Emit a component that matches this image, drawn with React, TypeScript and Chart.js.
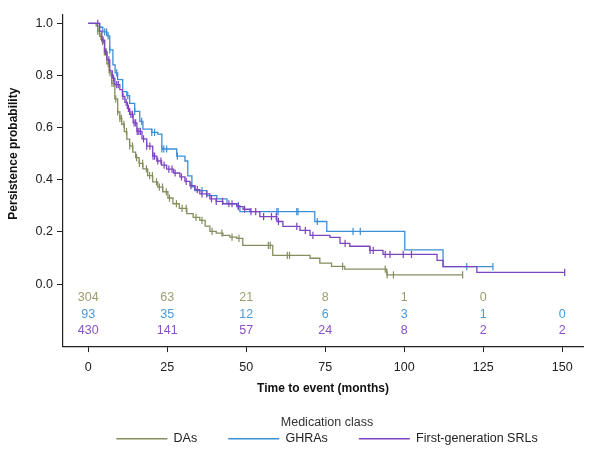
import React, { useEffect, useRef } from 'react';
import { Chart, registerables } from 'chart.js';

Chart.register(...registerables);

const FONT = '"Liberation Sans", Arial, Helvetica, sans-serif';

// ---- Data ----
const groupNames = ['DAs', 'GHRAs', 'First-generation SRLs'];

// DAs Kaplan-Meier steps (time in months, persistence probability after the drop)
const daTimes = [0, 2.5, 3.0, 3.6, 4.3, 5.1, 5.9, 6.6, 7.4, 8.4, 9.3, 10.0, 10.6, 11.4, 12.2, 13.1, 14.1, 15.0, 16.1, 17.3, 18.8, 20.4, 22.0, 23.6, 25.2, 26.8, 28.8, 31.2, 33.2, 35.3, 37.0, 38.5, 40.5, 42.6, 44.8, 47.0, 48.9, 58.4, 70.2, 73.3, 77.0, 81.2, 94.5, 118.5];
const daSurv = [1, 0.99, 0.97, 0.95, 0.93, 0.89, 0.845, 0.81, 0.77, 0.71, 0.66, 0.635, 0.613, 0.585, 0.556, 0.53, 0.506, 0.485, 0.463, 0.442, 0.416, 0.392, 0.372, 0.354, 0.33, 0.308, 0.29, 0.27, 0.256, 0.244, 0.222, 0.202, 0.195, 0.187, 0.18, 0.175, 0.148, 0.11, 0.099, 0.08, 0.068, 0.057, 0.035, 0.035];
const daCensor = [3, 3.5, 4, 4.5, 5.1, 5.7, 6.3, 6.9, 7.5, 8.1, 8.7, 9.3, 10, 10.5, 11.3, 12.1, 13.1, 14, 15.3, 16.2, 17.2, 18.4, 19.4, 20.3, 21.6, 22.5, 23.5, 24.7, 25.7, 27.9, 29.7, 31, 34.1, 36, 39.2, 42.3, 45.5, 47.7, 57, 57.6, 63, 63.7, 80.5, 94, 94.6, 96.6, 118.5];

// GHRAs
const ghTimes = [0, 3.6, 4.6, 5.9, 6.8, 7.8, 8.5, 9.3, 10.9, 12.2, 13.1, 14.7, 16.3, 17.3, 20.1, 22.0, 23.3, 28.0, 30.6, 31.5, 32.8, 33.7, 37.5, 40.7, 43.9, 47.0, 48.0, 71.7, 75.5, 100.2, 112.3, 128.1];
const ghSurv = [1, 0.985, 0.967, 0.952, 0.898, 0.841, 0.81, 0.784, 0.738, 0.723, 0.693, 0.662, 0.624, 0.594, 0.582, 0.575, 0.518, 0.491, 0.472, 0.415, 0.373, 0.358, 0.339, 0.327, 0.308, 0.301, 0.278, 0.24, 0.202, 0.131, 0.067, 0.067];
const ghCensor = [5.2, 5.8, 6.3, 6.8, 9, 12.5, 14.7, 16.9, 20.1, 21, 23.3, 23.9, 24.8, 28.2, 36, 47.5, 59.7, 60.1, 66, 66.4, 72.5, 83.8, 86.1, 119.8, 128.1];

// First-generation SRLs
const srTimes = [0, 3.6, 4.3, 5.2, 5.9, 6.8, 7.6, 8.4, 10.0, 10.8, 11.6, 12.4, 13.1, 14.2, 15.4, 17.0, 18.5, 20.4, 21.7, 23.2, 24.8, 27.0, 29.0, 30.6, 32.2, 33.8, 35.3, 38.5, 40.5, 42.6, 47.0, 49.0, 51.2, 54.3, 59.7, 61.6, 67.0, 70.2, 76.5, 79.7, 82.8, 89.1, 93.3, 110.4, 112.3, 123.0, 150.8];
const srSurv = [1, 0.97, 0.936, 0.89, 0.86, 0.818, 0.79, 0.765, 0.746, 0.72, 0.697, 0.674, 0.651, 0.618, 0.586, 0.557, 0.529, 0.491, 0.472, 0.456, 0.441, 0.426, 0.411, 0.394, 0.377, 0.362, 0.346, 0.327, 0.317, 0.308, 0.297, 0.287, 0.278, 0.259, 0.24, 0.221, 0.206, 0.187, 0.179, 0.156, 0.145, 0.129, 0.114, 0.091, 0.067, 0.045, 0.045];
const srCensor = [3, 4.7, 5.5, 6.5, 8, 9, 9.5, 11, 12, 12.7, 13.5, 14, 14.5, 15, 15.5, 16, 16.5, 17.5, 18.5, 19.5, 20.5, 21, 22, 23, 24, 25.5, 26.5, 27.5, 29.5, 31, 32.5, 34.5, 36, 37.5, 39, 40.5, 42.5, 44.5, 45.5, 47.5, 49.5, 51.5, 53, 55.5, 58, 59.5, 60.2, 66, 68.7, 71.1, 81.3, 89.2, 90.2, 94, 95.5, 99.7, 102.3, 150.8];

// Numbers at risk
const riskTimes = [0, 25, 50, 75, 100, 125, 150];
const daRisk = [304, 63, 21, 8, 1, 0, null];
const ghRisk = [93, 35, 12, 6, 3, 1, 0];
const srRisk = [430, 141, 57, 24, 8, 2, 2];

const xTickValues = [0, 25, 50, 75, 100, 125, 150];
const yTickValues = [0, 0.2, 0.4, 0.6, 0.8, 1.0];

const lineColors = ['#838f5e', '#3d8fd5', '#7c44c0'];
const riskColors = ['#9d9d70', '#4b99d8', '#8a52c8'];

// ---- helpers ----
function stepPoints(times: number[], surv: number[]) {
  return times.map((t, i) => ({ x: t, y: surv[i] }));
}
function censorPoints(times: number[], surv: number[], censor: number[]) {
  return censor.map((c) => {
    let v = surv[0];
    for (let i = 0; i < times.length; i++) {
      if (times[i] <= c) v = surv[i];
    }
    return { x: c, y: v };
  });
}

const riskPlugin = {
  id: 'riskTableAndYTitle',
  afterLayout(chart: any) {
    const lg = chart.legend;
    if (lg) {
      lg.left += 4;
      lg.right += 4;
    }
  },
  afterDatasetsDraw(chart: any) {
    const { ctx, scales } = chart;
    const x = scales.x;
    const y = scales.y;
    const rows = [daRisk, ghRisk, srRisk];
    const rowLevels = [-0.053, -0.117, -0.18];
    ctx.save();
    ctx.font = `12.5px ${FONT}`;
    ctx.textAlign = 'center';
    ctx.textBaseline = 'middle';
    rows.forEach((row, r) => {
      ctx.fillStyle = riskColors[r];
      const py = y.getPixelForValue(rowLevels[r]);
      row.forEach((n, i) => {
        if (n === null || n === undefined) return;
        ctx.fillText(String(n), x.getPixelForValue(riskTimes[i]), py);
      });
    });
    ctx.restore();

    ctx.save();
    ctx.translate(13.5, y.getPixelForValue(0.5));
    ctx.rotate(-Math.PI / 2);
    ctx.font = `bold 12px ${FONT}`;
    ctx.fillStyle = '#111';
    ctx.textAlign = 'center';
    ctx.textBaseline = 'middle';
    ctx.fillText('Persistence probability', 0, 0);
    ctx.restore();
  },
};

export default function App() {
  const canvasRef = useRef<HTMLCanvasElement | null>(null);

  useEffect(() => {
    if (!canvasRef.current) return;
    const curves = [
      [daTimes, daSurv, daCensor],
      [ghTimes, ghSurv, ghCensor],
      [srTimes, srSurv, srCensor],
    ] as number[][][];

    const datasets: any[] = [];
    curves.forEach(([t, s], i) => {
      datasets.push({
        label: groupNames[i],
        data: stepPoints(t, s),
        stepped: 'before',
        borderColor: lineColors[i],
        backgroundColor: lineColors[i],
        borderWidth: 1.3,
        pointRadius: 0,
        fill: false,
        order: 3 - i,
      });
    });
    curves.forEach(([t, s, c], i) => {
      datasets.push({
        label: groupNames[i] + ' censored',
        data: censorPoints(t, s, c),
        showLine: false,
        pointStyle: 'line',
        pointRotation: 90,
        pointRadius: 3.6,
        pointHoverRadius: 3.6,
        pointBorderColor: lineColors[i],
        pointBackgroundColor: lineColors[i],
        pointBorderWidth: 1.2,
        borderColor: lineColors[i],
        order: 3 - i,
      });
    });

    const chart = new Chart(canvasRef.current, {
      type: 'line',
      data: { datasets },
      plugins: [riskPlugin],
      options: {
        animation: false,
        responsive: false,
        devicePixelRatio: 1,
        layout: { padding: { top: 15, right: 8, bottom: -4, left: 0 } },
        plugins: {
          tooltip: { enabled: false },
          legend: {
            display: true,
            position: 'bottom',
            fullSize: false,
            title: {
              display: true,
              text: 'Medication class',
              color: '#333',
              font: { family: FONT, size: 12.5 },
              padding: { top: 16, bottom: -30 },
            },
            labels: {
              usePointStyle: true,
              pointStyle: 'line',
              pointStyleWidth: 51,
              padding: 31,
              color: '#222',
              font: { family: FONT, size: 12.5 },
              generateLabels: () =>
                groupNames.map((g, i) => ({
                  text: g,
                  fillStyle: lineColors[i],
                  strokeStyle: lineColors[i],
                  lineWidth: 1.6,
                  pointStyle: 'line',
                  rotation: 0,
                  hidden: false,
                  datasetIndex: i,
                  fontColor: '#222',
                })),
            },
          },
        },
        scales: {
          x: {
            type: 'linear',
            min: -8,
            max: 156.6,
            afterBuildTicks: (scale: any) => {
              scale.ticks = xTickValues.map((v) => ({ value: v }));
            },
            ticks: {
              color: '#222',
              font: { family: FONT, size: 12.5 },
              padding: 7.5,
              maxRotation: 0,
              callback: (v: any) => String(v),
            },
            grid: {
              display: true,
              drawOnChartArea: false,
              drawTicks: true,
              tickLength: 6,
              color: '#222',
              lineWidth: 1,
            },
            border: { display: true, color: '#222', width: 1.2 },
            title: {
              display: true,
              text: 'Time to event (months)',
              color: '#111',
              font: { family: FONT, size: 12, weight: 'bold' },
              padding: { top: -1, bottom: 5 },
            },
          },
          y: {
            type: 'linear',
            min: -0.238,
            max: 1.032,
            afterBuildTicks: (scale: any) => {
              scale.ticks = yTickValues.map((v) => ({ value: v }));
            },
            afterFit: (scale: any) => {
              scale.width = 63;
            },
            ticks: {
              color: '#222',
              font: { family: FONT, size: 12.5 },
              padding: 4,
              callback: (v: any) => Number(v).toFixed(1),
            },
            grid: {
              display: true,
              drawOnChartArea: false,
              drawTicks: true,
              tickLength: 6,
              color: '#222',
              lineWidth: 1,
            },
            border: { display: true, color: '#222', width: 1.2 },
          },
        },
      } as any,
    });
    return () => chart.destroy();
  }, []);

  return (
    <div style={{ position: 'fixed', left: 0, top: 0, width: 591, height: 451, background: '#fff' }}>
      <canvas ref={canvasRef} width={591} height={451} style={{ display: 'block' }} />
    </div>
  );
}
